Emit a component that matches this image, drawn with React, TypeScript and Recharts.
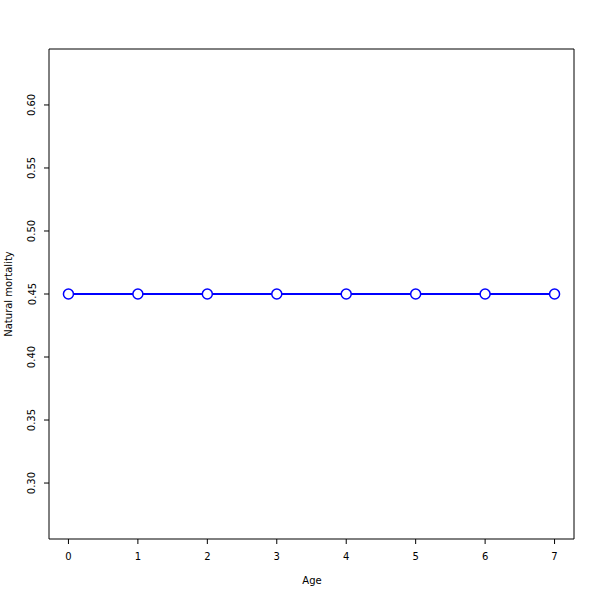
import { LineChart, Line, XAxis, YAxis, Label } from "recharts";

const ages = [0, 1, 2, 3, 4, 5, 6, 7];
const mortality = [0.45, 0.45, 0.45, 0.45, 0.45, 0.45, 0.45, 0.45];
const yTicks = [0.3, 0.35, 0.4, 0.45, 0.5, 0.55, 0.6];
const xTicks = [0, 1, 2, 3, 4, 5, 6, 7];

const data = ages.map((age, i) => ({ age, m: mortality[i] }));

const FONT = "DejaVu Sans, sans-serif";

function YTick(props: any) {
  const { y, payload } = props;
  return (
    <text
      x={32}
      y={y}
      transform={`rotate(-90, 32, ${y})`}
      textAnchor="middle"
      dominantBaseline="central"
      fontSize={10}
      fontFamily={FONT}
      fill="#000"
    >
      {payload.value.toFixed(2)}
    </text>
  );
}

function XTick(props: any) {
  const { x, payload } = props;
  return (
    <text
      x={x}
      y={556}
      textAnchor="middle"
      dominantBaseline="central"
      fontSize={10}
      fontFamily={FONT}
      fill="#000"
    >
      {payload.value}
    </text>
  );
}

export default function App() {
  return (
    <div style={{ position: "absolute", left: 0, top: 0, width: 600, height: 600, background: "#fff" }}>
      <LineChart width={600} height={600} data={data} margin={{ top: 1, right: 0, bottom: 0, left: 0 }}>
        <XAxis
          dataKey="age"
          type="number"
          domain={[-0.28, 7.28]}
          ticks={xTicks}
          height={61}
          stroke="#000"
          tickSize={5}
          tick={<XTick />}
          allowDataOverflow
        >
          <Label
            content={() => (
              <text x={312} y={580} textAnchor="middle" dominantBaseline="central" fontSize={10} fontFamily={FONT} fill="#000">
                Age
              </text>
            )}
          />
        </XAxis>
        <XAxis xAxisId="top" orientation="top" dataKey="age" type="number" domain={[-0.28, 7.28]} height={48} stroke="#000" tick={false} tickLine={false} />
        <YAxis
          type="number"
          domain={[0.2556, 0.6444]}
          ticks={yTicks}
          width={49}
          stroke="#000"
          tickSize={5}
          tick={<YTick />}
          allowDataOverflow
        >
          <Label
            content={() => (
              <text x={8} y={294} transform="rotate(-90, 8, 294)" textAnchor="middle" dominantBaseline="central" fontSize={10} fontFamily={FONT} fill="#000">
                Natural mortality
              </text>
            )}
          />
        </YAxis>
        <YAxis yAxisId="right" orientation="right" domain={[0.2556, 0.6444]} width={26} stroke="#000" tick={false} tickLine={false} />
        <Line
          dataKey="m"
          stroke="#0000ff"
          strokeWidth={2}
          dot={{ r: 5, stroke: "#0000ff", strokeWidth: 1.5, fill: "#fff" }}
          isAnimationActive={false}
        />
      </LineChart>
    </div>
  );
}
